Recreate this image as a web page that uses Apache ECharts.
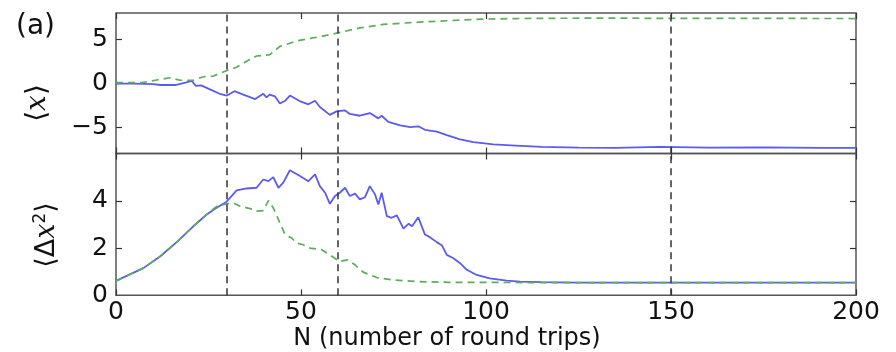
<!DOCTYPE html>
<html><head><meta charset="utf-8">
<script src="https://cdn.jsdelivr.net/npm/echarts@6/dist/echarts.min.js"></script>
<style>html,body{margin:0;padding:0;background:#fff}#c{width:896px;height:352px}</style>
</head><body><div id="c"></div>
<script>
// ---- data ----
const xTicks = [0, 50, 100, 150, 200];
const topYTicks = [-5, 0, 5];
const botYTicks = [0, 2, 4];
const vlineN = [30, 60, 150];

const meanBlueN = [0,5,10,12,16,19,20.5,21.6,23,25.4,28,30,32,34.4,37.6,39.8,40.7,41.5,43,44.3,45.7,47,50,52,53.8,55.1,57.8,59.6,61.9,63.2,65.9,68.6,70.9,71.8,73.6,76.8,79.5,81.7,83.5,86.7,89.4,93,96.6,102,108,115,125,135,147,160,175,190,200];
const meanBlueV = [-0.05,-0.05,-0.1,-0.2,-0.2,0.1,0.26,-0.3,-0.25,-0.7,-1.2,-1.4,-0.9,-1.3,-1.8,-1.2,-1.6,-1.3,-1.5,-2.3,-2.0,-1.4,-2.1,-2.4,-2.0,-2.7,-3.6,-3.2,-3.1,-3.5,-3.7,-3.4,-4.0,-3.7,-4.4,-4.8,-5.0,-4.9,-5.3,-5.5,-5.9,-6.4,-6.7,-6.97,-7.1,-7.25,-7.32,-7.35,-7.24,-7.33,-7.3,-7.36,-7.35];

const meanGreenN = [0,7,11,14.6,17.3,20.9,23.6,26.3,30,32.6,35.3,38,41.6,44.3,47,48.8,52.4,55.1,59.6,65.9,72.2,79.5,87.6,98.4,108,120,135,150,165,180,200];
const meanGreenV = [0.07,0.07,0.37,0.63,0.34,0.34,0.74,0.82,1.46,1.83,2.5,3.1,3.26,4.2,4.56,4.83,5.1,5.3,5.7,6.3,6.7,6.9,7.08,7.3,7.37,7.4,7.42,7.38,7.4,7.38,7.37];

const varBlueN = [0,7.4,11.9,16.4,20.9,24.5,27.2,29.9,32.6,35.3,38,39.8,41.2,42.5,43.9,45.2,47,49.7,52,53.8,55.1,56.5,57.8,59.2,60.5,61.9,63.2,64.6,65.9,67.3,68.6,70,70.9,71.8,73.2,74.5,75.9,77.7,79.1,80,81.7,83.5,84.9,86.7,88.1,89.4,91.2,93,94.8,97.5,101,105.6,109.2,115,125,140,160,180,200];
const varBlueV = [0.61,1.15,1.64,2.25,2.92,3.42,3.70,3.96,4.44,4.52,4.55,4.9,4.83,5.0,4.55,4.77,5.29,5.05,4.83,5.12,4.62,4.34,3.87,4.2,4.34,4.55,4.2,4.3,4.06,4.15,4.62,4.27,3.84,4.34,3.35,3.28,3.38,2.82,3.03,2.92,3.3,2.57,2.45,2.25,2.11,1.71,1.57,1.36,1.08,0.86,0.72,0.62,0.58,0.56,0.54,0.54,0.54,0.54,0.54];

const varGreenN = [0,7.4,11.9,16.4,20.9,24.5,27.2,29.9,31.7,33.5,36.2,38,39.8,41.2,42.5,43.9,45.7,47.5,48.8,50.6,52.4,55.6,57.8,60.4,62.6,64.6,66.8,70.5,75,81.4,90,110,140,170,200];
const varGreenV = [0.61,1.15,1.64,2.25,2.92,3.42,3.76,3.87,3.91,3.77,3.67,3.56,3.58,4.01,3.70,3.2,2.57,2.42,2.21,2.14,2.0,1.93,1.71,1.43,1.5,1.29,0.98,0.75,0.65,0.58,0.55,0.54,0.54,0.54,0.54];

const zip = (a, b) => a.map((v, i) => [v, b[i]]);

// ---- styles ----
const BLUE = '#5b5bf2', GREEN = '#5cad5c', FRAME = '#555';
const FONT = 'DejaVu Sans';
const tickStyle = {show: true, inside: true, length: 6, lineStyle: {color: '#333', width: 1.2}};
const lblStyle = {color: '#111', fontSize: 25, fontFamily: FONT};
const fmt = v => String(v).replace('-', '\u2212');

function xAx(grid, pos, labels) {
  return {type: 'value', gridIndex: grid, position: pos, min: 0, max: 200, interval: 50,
    axisLine: {show: false, onZero: false}, splitLine: {show: false},
    axisTick: Object.assign({customValues: xTicks}, tickStyle),
    axisLabel: labels ? Object.assign({show: true, margin: 5, customValues: xTicks, formatter: fmt}, lblStyle) : {show: false}};
}
function yAx(grid, pos, min, max, ticks, labelVals) {
  return {type: 'value', gridIndex: grid, position: pos, min: min, max: max,
    axisLine: {show: false, onZero: false}, splitLine: {show: false},
    axisTick: Object.assign({customValues: ticks}, tickStyle),
    axisLabel: labelVals ? Object.assign({show: true, margin: 8, customValues: labelVals, formatter: fmt}, lblStyle) : {show: false}};
}
const vlines = {
  silent: true, symbol: ['none', 'none'], label: {show: false},
  lineStyle: {color: '#333', type: [7, 5], width: 1.5},
  data: vlineN.map(n => ({xAxis: n}))
};

const chart = echarts.init(document.getElementById('c'));
chart.setOption({
  animation: false,
  backgroundColor: '#fff',
  grid: [
    {left: 116, right: 40, top: 13, height: 140.5, show: true, borderColor: FRAME, borderWidth: 1.5, backgroundColor: 'transparent'},
    {left: 116, right: 40, top: 153.5, height: 141.8, show: true, borderColor: FRAME, borderWidth: 1.5, backgroundColor: 'transparent'}
  ],
  xAxis: [xAx(0, 'bottom', false), xAx(0, 'top', false), xAx(1, 'bottom', true), xAx(1, 'top', false)],
  yAxis: [
    yAx(0, 'left', -8, 8, topYTicks, topYTicks), yAx(0, 'right', -8, 8, topYTicks, null),
    yAx(1, 'left', 0, 6, [2, 4], botYTicks), yAx(1, 'right', 0, 6, [2, 4], null)
  ],
  series: [
    {type: 'line', xAxisIndex: 0, yAxisIndex: 0, data: zip(meanBlueN, meanBlueV), showSymbol: false,
      lineStyle: {color: BLUE, width: 1.8}, itemStyle: {color: BLUE}, markLine: vlines, z: 2},
    {type: 'line', xAxisIndex: 0, yAxisIndex: 0, data: zip(meanGreenN, meanGreenV), showSymbol: false,
      lineStyle: {color: GREEN, width: 1.7, type: [7, 5]}, itemStyle: {color: GREEN}, z: 3},
    {type: 'line', xAxisIndex: 2, yAxisIndex: 2, data: zip(varBlueN, varBlueV), showSymbol: false,
      lineStyle: {color: BLUE, width: 1.8}, itemStyle: {color: BLUE}, markLine: vlines, z: 2},
    {type: 'line', xAxisIndex: 2, yAxisIndex: 2, data: zip(varGreenN, varGreenV), showSymbol: false,
      lineStyle: {color: GREEN, width: 1.7, type: [7, 5]}, itemStyle: {color: GREEN}, z: 3}
  ],
  graphic: [
    {type: 'text', left: 16, top: 13, style: {text: '(a)', fill: '#111', font: '28px "DejaVu Sans"'}},
    {type: 'text', x: 447, y: 339, style: {text: 'N (number of round trips)', fill: '#111', font: '24px "DejaVu Sans"', textAlign: 'center', textVerticalAlign: 'middle'}},
    {type: 'text', x: 38, y: 103, rotation: Math.PI / 2,
      style: {text: '\u27E8{i|x}\u27E9', fill: '#111', font: '28px "DejaVu Sans"', textAlign: 'center', textVerticalAlign: 'middle',
        rich: {i: {fontFamily: 'DejaVu Serif', fontStyle: 'italic', fontSize: 28, fill: '#111'}}}},
    {type: 'text', x: 47, y: 235, rotation: Math.PI / 2,
      style: {text: '\u27E8\u0394{i|x}{s|2}\u27E9', fill: '#111', font: '27px "DejaVu Sans"', textAlign: 'center', textVerticalAlign: 'middle',
        rich: {i: {fontFamily: 'DejaVu Serif', fontStyle: 'italic', fontSize: 27, fill: '#111'},
               s: {fontFamily: 'DejaVu Sans', fontSize: 17, fill: '#111', padding: [0, 0, 12, 0]}}}}
  ]
});
</script></body></html>
